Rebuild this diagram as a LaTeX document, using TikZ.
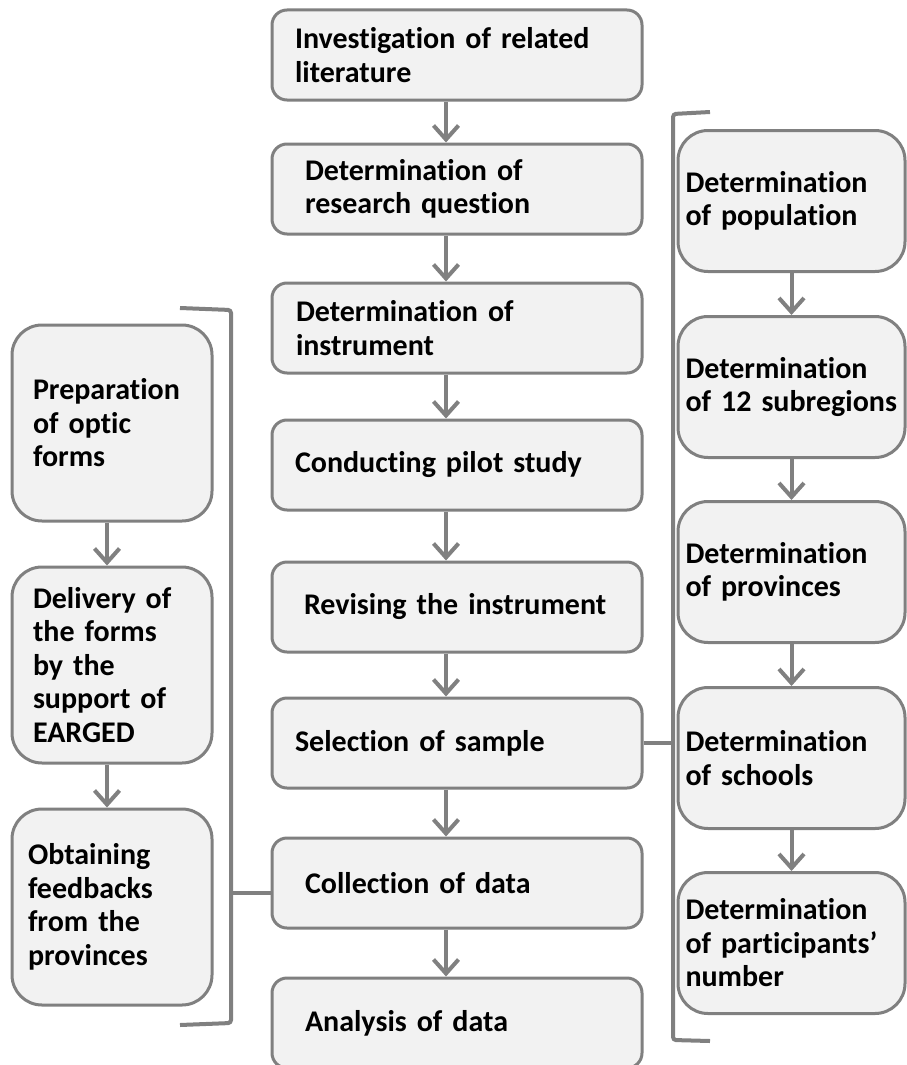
\documentclass[tikz,border=0pt]{standalone}
\usepackage{fontspec}
\setmainfont{Carlito}[Ligatures=NoCommon]
\usepackage{tikz}
\usetikzlibrary{arrows.meta, positioning}
\colorlet{cGrey}{black!50}
\colorlet{cFill}{black!5}
\tikzset{
  box/.style={draw=cGrey, fill=cFill, line width=3pt, align=left, inner sep=0pt,
              font=\fontsize{30}{33.5}\selectfont\bfseries},
  midbox/.style={box, rounded corners=15pt, minimum width=370pt, minimum height=90pt},
  sidebox/.style={box, rounded corners=30pt, minimum width=200pt, minimum height=196pt},
  subbox/.style={box, rounded corners=30pt, minimum width=227pt, minimum height=141pt, text width=212pt},
  flow/.style={draw=cGrey, line width=4pt, -{Straight Barb[length=14pt, width=25pt]}},
  bracket/.style={draw=cGrey, line width=4pt, rounded corners=3pt}
}

\begin{document}
\begin{tikzpicture}[x=1pt, y=-1pt]
    \useasboundingbox[fill=white] (0,0) rectangle (907,1065);
    % Main steps
    \node[midbox, text width=324pt] (lit) at (457,55) {Investigation of related\\literature};
    \node[midbox, text width=304pt] (quest) at (457,189) {Determination of\\research question};
    \node[midbox, text width=322pt] (instr) at (457,328) {Determination of\\instrument};
    \node[midbox, text width=324pt] (pilot) at (457,465) {Conducting pilot study};
    \node[midbox, text width=306pt] (revise) at (457,607) {Revising the instrument};
    \node[midbox, text width=324pt] (sample) at (457,743) {Selection of sample};
    \node[midbox, text width=304pt] (collect) at (457,883) {Collection of data};
    \node[midbox, text width=304pt] (analyse) at (457,1023) {Analysis of data};
    \coordinate (mx) at (446,0);
    \draw[flow] (lit.south -| mx) -- (quest.north -| mx); \draw[flow] (quest.south -| mx) -- (instr.north -| mx);
    \draw[flow] (instr.south -| mx) -- (pilot.north -| mx); \draw[flow] (pilot.south -| mx) -- (revise.north -| mx);
    \draw[flow] (revise.south -| mx) -- (sample.north -| mx); \draw[flow] (sample.south -| mx) -- (collect.north -| mx);
    \draw[flow] (collect.south -| mx) -- (analyse.north -| mx);
    % Data collection
    \node[sidebox, text width=158pt] (optic) at (112,423) {Preparation\\of optic\\forms};
    \node[sidebox, text width=158pt] (deliver) at (112,665) {Delivery of\\the forms\\by the\\support of\\EARGED};
    \node[sidebox, text width=168pt] (feedback) at (112,907) {Obtaining\\feedbacks\\from the\\provinces};
    \coordinate (lx) at (107,0);
    \draw[flow] (optic.south -| lx) -- (deliver.north -| lx); \draw[flow] (deliver.south -| lx) -- (feedback.north -| lx);
    \draw[bracket] (180,308) -- (231,310) -- (231,1023) -- (180,1025);
    \coordinate (lb) at (231,893);
    \draw[bracket] (lb) -- (lb -| collect.west);
    % Sampling
    \node[subbox] (popul) at (791.5,201) {Determination\\of population};
    \node[subbox] (subreg) at (791.5,387) {Determination\\of 12 subregions};
    \node[subbox] (provin) at (791.5,572) {Determination\\of provinces};
    \node[subbox] (school) at (791.5,758) {Determination\\of schools};
    \node[subbox] (partic) at (791.5,943) {Determination\\of participants’\\number};
    \draw[flow] (popul) -- (subreg); \draw[flow] (subreg) -- (provin);
    \draw[flow] (provin) -- (school); \draw[flow] (school) -- (partic);
    \draw[bracket] (710,112) -- (673,114) -- (673,1040) -- (710,1041);
    \coordinate (rb) at (673,745);
    \draw[bracket] (sample.east) -- (sample.east -| rb);
\end{tikzpicture}
\end{document}
